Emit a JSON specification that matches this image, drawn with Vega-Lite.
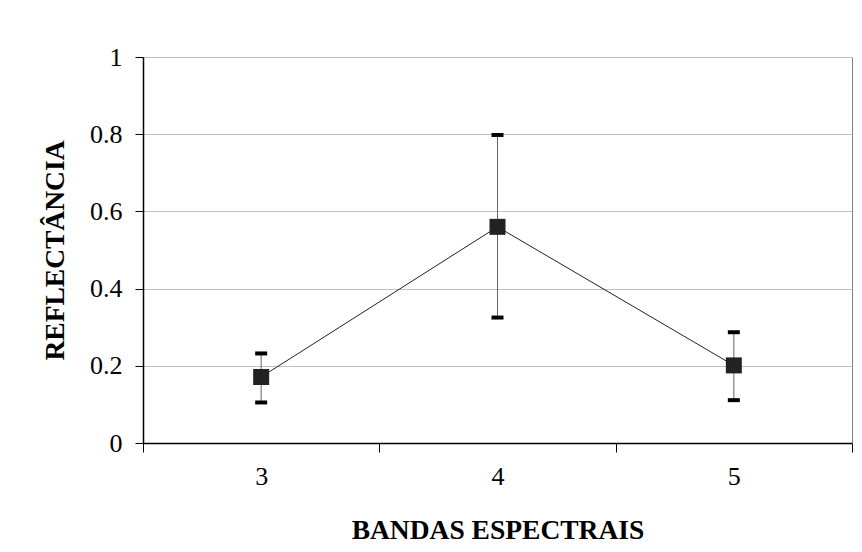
{
  "$schema": "https://vega.github.io/schema/vega-lite/v6.json",
  "width": 709,
  "height": 386,
  "autosize": {"type": "none"},
  "padding": {"left": 143, "top": 57, "right": 10, "bottom": 109},
  "background": "white",
  "config": {
    "view": {"stroke": "#808080", "strokeWidth": 1},
    "font": "Liberation Serif"
  },
  "data": {
    "values": [
      {"banda": "3", "r": 0.171, "lo": 0.105, "hi": 0.232},
      {"banda": "4", "r": 0.56, "lo": 0.325, "hi": 0.798},
      {"banda": "5", "r": 0.201, "lo": 0.111, "hi": 0.287}
    ]
  },
  "encoding": {
    "x": {
      "field": "banda",
      "type": "ordinal",
      "scale": {"paddingInner": 0, "paddingOuter": 0},
      "axis": {
        "title": "BANDAS ESPECTRAIS",
        "titleFont": "Liberation Serif",
        "titleFontSize": 27.5,
        "titleFontWeight": "bold",
        "titleColor": "black",
        "titlePadding": 27,
        "labelAngle": 0,
        "labelFont": "Liberation Serif",
        "labelFontSize": 26,
        "labelColor": "black",
        "labelPadding": 11,
        "tickBand": "extent",
        "tickSize": 9,
        "tickColor": "black",
        "domainColor": "black",
        "domainWidth": 1.5,
        "grid": false
      }
    }
  },
  "layer": [
    {
      "mark": {"type": "rule", "color": "#666666", "strokeWidth": 1},
      "encoding": {
        "y": {
          "field": "lo",
          "type": "quantitative",
          "scale": {"domain": [0, 1]},
          "axis": {
            "title": "REFLECTÂNCIA",
            "titleFont": "Liberation Serif",
            "titleFontSize": 27.5,
            "titleFontWeight": "bold",
            "titleColor": "black",
            "titlePadding": 20,
            "values": [0, 0.2, 0.4, 0.6, 0.8, 1],
            "format": "~g",
            "labelFont": "Liberation Serif",
            "labelFontSize": 26,
            "labelColor": "black",
            "labelPadding": 13,
            "tickSize": 8,
            "tickColor": "black",
            "domainColor": "black",
            "domainWidth": 1.5,
            "grid": true,
            "gridColor": "#c0c0c0",
            "gridWidth": 1
          }
        },
        "y2": {"field": "hi"}
      }
    },
    {
      "mark": {"type": "line", "color": "#222222", "strokeWidth": 1},
      "encoding": {"y": {"field": "r", "type": "quantitative"}}
    },
    {
      "mark": {"type": "tick", "orient": "horizontal", "color": "black", "thickness": 4, "size": 12, "opacity": 1},
      "encoding": {"y": {"field": "lo", "type": "quantitative"}}
    },
    {
      "mark": {"type": "tick", "orient": "horizontal", "color": "black", "thickness": 4, "size": 12, "opacity": 1},
      "encoding": {"y": {"field": "hi", "type": "quantitative"}}
    },
    {
      "mark": {"type": "square", "size": 256, "color": "#222222", "filled": true, "opacity": 1},
      "encoding": {"y": {"field": "r", "type": "quantitative"}}
    }
  ]
}
